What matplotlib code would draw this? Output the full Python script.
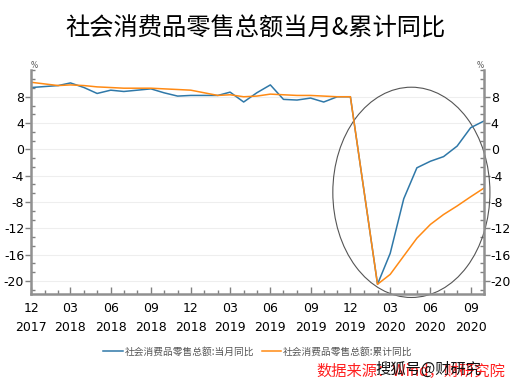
import numpy as np
import pandas as pd
import matplotlib
matplotlib.use("Agg")
import matplotlib.pyplot as plt
import matplotlib.dates as mdates
from matplotlib.patches import Ellipse
from matplotlib.ticker import AutoMinorLocator

plt.rcParams['font.family'] = ['DejaVu Sans', 'Noto Sans CJK SC']
plt.rcParams['axes.unicode_minus'] = False

# --- DATA ---
months = ["2017-12", "2018-02", "2018-03", "2018-04", "2018-05", "2018-06", "2018-07",
          "2018-08", "2018-09", "2018-10", "2018-11", "2018-12", "2019-02", "2019-03",
          "2019-04", "2019-05", "2019-06", "2019-07", "2019-08", "2019-09", "2019-10",
          "2019-11", "2019-12", "2020-02", "2020-03", "2020-04", "2020-05", "2020-06",
          "2020-07", "2020-08", "2020-09", "2020-10"]
monthly_yoy = [9.4, 9.7, 10.1, 9.4, 8.5, 9.0, 8.8, 9.0, 9.2, 8.6, 8.1, 8.2, 8.2, 8.7,
               7.2, 8.6, 9.8, 7.6, 7.5, 7.8, 7.2, 8.0, 8.0, -20.5, -15.8, -7.5, -2.8,
               -1.8, -1.1, 0.5, 3.3, 4.3]
cumulative_yoy = [10.2, 9.7, 9.8, 9.7, 9.5, 9.4, 9.3, 9.3, 9.3, 9.2, 9.1, 9.0, 8.2, 8.3,
                  8.0, 8.1, 8.4, 8.3, 8.2, 8.2, 8.1, 8.0, 8.0, -20.5, -19.0, -16.2, -13.5,
                  -11.4, -9.9, -8.6, -7.2, -5.9]
series_names = ["社会消费品零售总额:当月同比", "社会消费品零售总额:累计同比"]
title = "社会消费品零售总额当月&累计同比"

dates = pd.to_datetime(months)
blue = "#2f78a8"
orange = "#ff8a14"
cjk = ['Noto Sans CJK SC', 'DejaVu Sans']

fig = plt.figure(figsize=(5.18, 3.87), dpi=100)
ax = fig.add_axes([0.060, 0.240, 0.874, 0.578])

ax.plot(dates, monthly_yoy, color=blue, lw=1.1, label=series_names[0])
ax.plot(dates, cumulative_yoy, color=orange, lw=1.1, label=series_names[1])

ax.set_xlim(pd.Timestamp("2017-12-01"), pd.Timestamp("2020-10-01"))
ax.set_ylim(-22, 12)

# y axis on both sides
ax.set_yticks(np.arange(-20, 9, 4))
ax.yaxis.set_minor_locator(AutoMinorLocator(3))
ax.grid(axis='y', which='major', color='#eeeeee', lw=0.8)
ax.set_axisbelow(True)
ax.tick_params(axis='y', which='major', direction='out', length=4, width=1,
               color='#808080', labelsize=9, left=True, right=True,
               labelleft=True, labelright=True, pad=1)
ax.tick_params(axis='y', which='minor', direction='in', length=3, width=1,
               color='#808080', left=True, right=True)

# x axis with dates
ax.xaxis.set_major_locator(mdates.MonthLocator(bymonth=[3, 6, 9, 12]))
ax.xaxis.set_minor_locator(mdates.MonthLocator())
ax.xaxis.set_major_formatter(mdates.DateFormatter("%m\n%Y"))
ax.tick_params(axis='x', which='major', direction='in', length=5, width=1,
               color='#808080', labelsize=9, pad=6)
ax.tick_params(axis='x', which='minor', direction='in', length=3, width=1,
               color='#808080')
for lbl in ax.get_xticklabels():
    lbl.set_linespacing(1.6)

for side in ['left', 'right', 'bottom']:
    ax.spines[side].set_color('#909090')
    ax.spines[side].set_linewidth(1.8)
ax.spines['top'].set_visible(False)

ax.text(0.0, 1.0, "%", transform=ax.transAxes, fontsize=5.5, color='#555555',
        ha='left', va='bottom')
ax.text(1.0, 1.0, "%", transform=ax.transAxes, fontsize=5.5, color='#555555',
        ha='right', va='bottom')

# highlight ellipse
ell = Ellipse((0.84, 0.455), 0.347, 0.94, transform=ax.transAxes, fill=False,
              edgecolor='#555555', lw=0.8, clip_on=False)
ax.add_patch(ell)

fig.text(0.493, 0.925, title, ha='center', va='center', fontsize=17.5,
         family=cjk, weight='medium')

fig.legend(loc='center', bbox_to_anchor=(0.498, 0.092), ncol=2, frameon=False,
           handlelength=2.0, handletextpad=0.2, columnspacing=0.8,
           labelcolor='#555555', prop={'family': cjk, 'size': 7})

fig.text(0.975, 0.04, "数据来源：Wind，财研究院", ha='right', va='center', fontsize=11,
         color='#ff2020', style='italic', family=cjk)
fig.text(0.93, 0.047, "搜狐号@财研究", ha='right', va='center', fontsize=11,
         color='#111111', family=cjk)

fig.savefig("out.png", dpi=100)
